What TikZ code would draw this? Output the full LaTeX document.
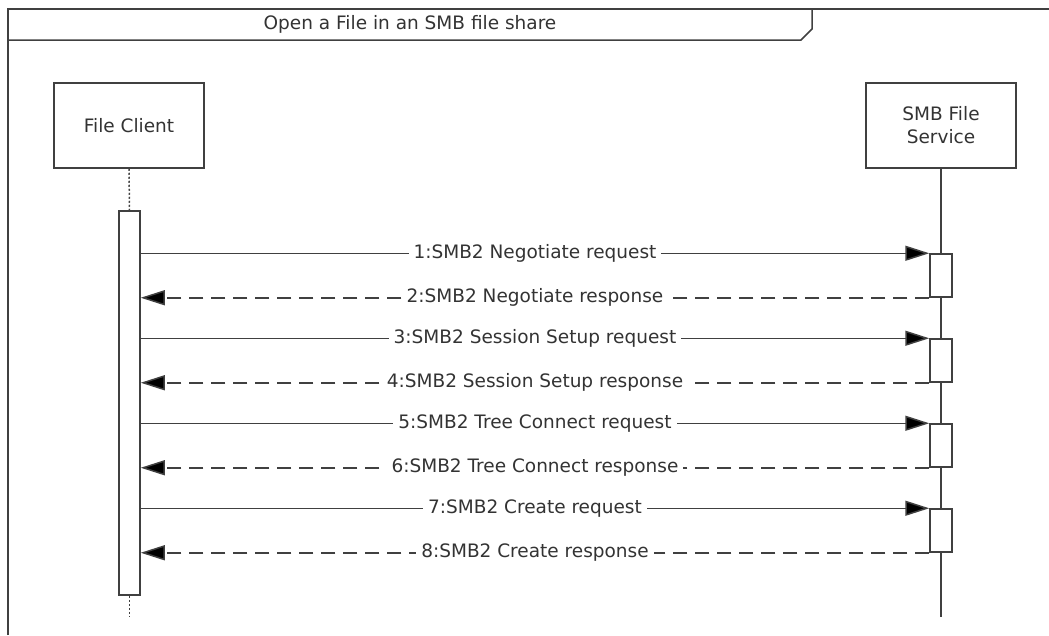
\documentclass[tikz,border=0pt]{standalone}
\usepackage{fontspec}
\setmainfont{DejaVu Sans}
\usetikzlibrary{arrows.meta}
\definecolor{lineclr}{HTML}{404040}
\definecolor{textclr}{HTML}{333333}
\tikzset{every node/.style={font=\fontsize{18.5}{23}\selectfont,text=textclr},
         actor/.style={draw=lineclr,line width=1.5pt,minimum width=150pt,minimum height=85pt,align=center,fill=white},
         activation/.style={draw=lineclr,line width=1.5pt,fill=white,minimum width=21pt,inner sep=0pt},
         lifeline/.style={draw=lineclr,line width=1.5pt},
         request/.style={draw=lineclr,line width=1.5pt,-{Triangle[length=24pt,width=15pt,fill=black]}},
         response/.style={request,dash pattern=on 14pt off 8pt},
         msglabel/.style={fill=white,inner xsep=5pt,inner ysep=1pt,midway},
         x=1pt,y=-1pt}
\begin{document}
\begin{tikzpicture}
\useasboundingbox (0,0) rectangle (1049,635);
% frame with title tab
\draw[lineclr,line width=1.5pt] (8,635) -- (8,9) -- (1049,9);
\draw[lineclr,line width=1.5pt] (8,40) -- (801,40) -- (812,29) -- (812,9);
\node (title) at (410,24.5) {Open a File in an SMB file share};
% actors
\node[actor] (client) at (129,125.5) {File Client};
\node[actor] (service) at (941,125.5) {SMB File\\Service};
\coordinate (clientend) at (129.5,617);
\coordinate (serviceend) at (941,617);
% lifelines
\draw[lifeline] (service.south) -- (serviceend);
\node[activation,minimum height=384pt] (clientact) at (129.5,403) {};
\draw[lifeline,dash pattern=on 2pt off 2pt] (client.south) -- (clientact.north);
\draw[lifeline,dash pattern=on 2pt off 2pt] (clientact.south) -- (clientend);
% messages
\foreach \i/\y/\req/\resp in {1/275.5/Negotiate/Negotiate,
                              2/360.5/Session Setup/Session Setup,
                              3/445.5/Tree Connect/Tree Connect,
                              4/530.5/Create/Create}{
  \node[activation,minimum width=22pt,minimum height=43pt] (act\i) at (941,\y) {};
  \pgfmathtruncatemacro{\nreq}{2*\i-1}
  \pgfmathtruncatemacro{\nresp}{2*\i}
  \draw[request] (clientact.east |- act\i.north) -- (act\i.north west)
     node[msglabel] {\nreq:SMB2 \req\ request};
  \draw[response] (act\i.south west) -- (clientact.east |- act\i.south)
     node[msglabel] {\nresp:SMB2 \resp\ response};
}
\end{tikzpicture}
\end{document}
